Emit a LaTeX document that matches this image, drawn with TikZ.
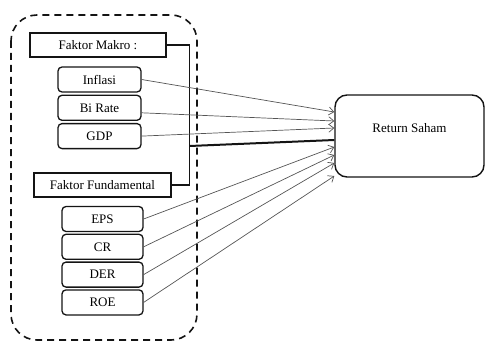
\documentclass[tikz,border=0pt]{standalone}
\usepackage{fontspec}
\setmainfont{Liberation Serif}
\usepackage{xcolor}
\usepackage{tikz}
\usetikzlibrary{arrows.meta,positioning}
\definecolor{inkline}{RGB}{20,20,20}
\definecolor{arrowgray}{RGB}{85,85,85}
\tikzset{
  headbox/.style={rectangle, draw=inkline, line width=1.3pt, fill=white,
                  font=\fontsize{13}{15}\selectfont, inner sep=2pt,
                  minimum height=24pt},
  factorbox/.style={rectangle, rounded corners=4pt, draw=inkline, line width=1.3pt,
                    fill=white, font=\fontsize{13}{15}\selectfont, inner sep=2pt,
                    minimum height=25pt},
  targetbox/.style={rectangle, rounded corners=12pt, draw=inkline, line width=1.4pt,
                    fill=white, font=\fontsize{13}{15}\selectfont, text depth=17pt,
                    minimum width=149pt, minimum height=82pt},
  groupframe/.style={draw=inkline, line width=1.6pt, dash pattern=on 7pt off 5pt,
                     rounded corners=26pt},
  bracket/.style={draw=inkline, line width=1.6pt},
  joinline/.style={draw=inkline, line width=2pt},
  arr/.style={-{Straight Barb[length=5pt,width=8pt]}, line width=0.7pt, color=arrowgray},
}
\begin{document}
\begin{tikzpicture}[x=1pt, y=-1pt]
  \useasboundingbox (0,0) rectangle (485,345);
  % outer dashed group
  \draw[groupframe] (11,15) rectangle (197,340);

  \node[headbox, minimum width=136pt] (makro) at (98,45) {Faktor Makro :};
  \node[factorbox, minimum width=83pt] (infl) at (99.5,79.5) {Inflasi};
  \node[factorbox, minimum width=83pt, below=2pt of infl] (birate) {Bi Rate};
  \node[factorbox, minimum width=83pt, below=2pt of birate] (gdp) {GDP};

  \node[headbox, minimum width=137pt] (fund) at (102.5,185) {Faktor Fundamental};
  \node[factorbox, minimum width=81pt] (eps) at (102.5,219) {EPS};
  \node[factorbox, minimum width=81pt, below=1.5pt of eps] (cr) {CR};
  \node[factorbox, minimum width=81pt, below=1.5pt of cr] (der) {DER};
  \node[factorbox, minimum width=81pt, below=1.5pt of der] (roe) {ROE};

  \node[targetbox] (ret) at (409.5,136) {Return Saham};

  % bracket joining both groups
  \draw[bracket] (makro.east) -- ++(23,0) coordinate (brtop) |- (fund.east);
  \coordinate (join) at (brtop |- 0,146);
  \draw[joinline] (join) -- ([yshift=-4pt]ret.west);

  \draw[arr] (infl.east) -- ([yshift=24pt]ret.west);
  \draw[arr] ([yshift=-5pt]birate.east) -- ([yshift=15pt]ret.west);
  \draw[arr] (gdp.east) -- ([yshift=8pt]ret.west);
  \draw[arr] (eps.east) -- ([yshift=-11pt]ret.west);
  \draw[arr] (cr.east) -- ([yshift=-19pt]ret.west);
  \draw[arr] (der.east) -- ([yshift=-27pt]ret.west);
  \draw[arr] (roe.east) -- ([yshift=-40pt]ret.west);
\end{tikzpicture}
\end{document}
